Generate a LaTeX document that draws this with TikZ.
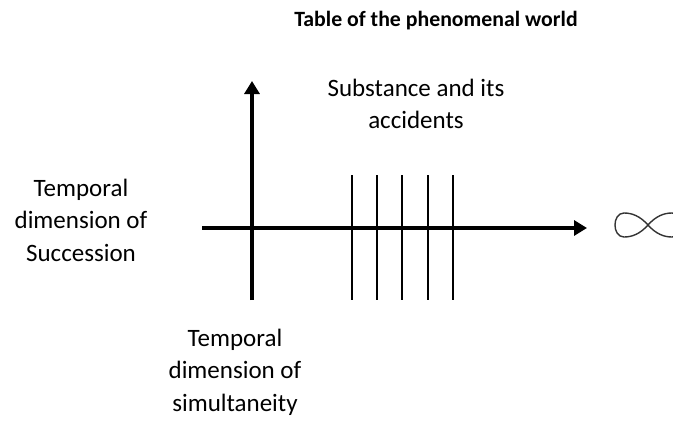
\documentclass[tikz,border=0pt]{standalone}
\usepackage{fontspec}
\setmainfont{Carlito}
\usetikzlibrary{arrows.meta}

\begin{document}
\begin{tikzpicture}[x=1pt,y=-1pt,font=\fontsize{25}{32.5}\selectfont,
  lbl/.style={align=center,inner sep=0pt},
  axis/.style={line width=3.2pt,-{Triangle[length=13pt,width=15pt]}}]
 \useasboundingbox (0,0) rectangle (673,421);
 \node[lbl,font=\fontsize{21.8}{26}\selectfont\bfseries] (title) at (436,21) {Table of the phenomenal world};
 \node[lbl] (subst) at (416,104) {Substance and its\\accidents};
 \node[lbl] (succ) at (81,220) {Temporal\\dimension of\\Succession};
 \node[lbl] (simul) at (235,372) {Temporal\\dimension of\\simultaneity};
 \coordinate (hl) at (202,228);\coordinate (hr) at (587,228);
 \coordinate (vb) at (252,300);\coordinate (vt) at (252,81);
 \draw[axis] (hl)--(hr);\draw[axis] (vb)--(vt);
 \foreach \i/\x in {1/352,2/377,3/402,4/428,5/453}{
  \coordinate (a\i) at (\x,175);\coordinate (b\i) at (\x,300);
  \draw[line width=2pt] (a\i)--(b\i);
 }
 \coordinate (inf) at (648,225);
 \draw[line width=1.4pt,black!80] (inf) .. controls (640,216) and (632,213) .. (624,213) .. controls (618,213) and (615,219) .. (615,225)
  .. controls (615,231) and (618,237) .. (624,237) .. controls (632,237) and (640,234) .. (inf)
  .. controls (656,216) and (664,213) .. (672,213) .. controls (678,213) and (681,219) .. (681,225)
  .. controls (681,231) and (678,237) .. (672,237) .. controls (664,237) and (656,234) .. (inf);
\end{tikzpicture}
\end{document}
